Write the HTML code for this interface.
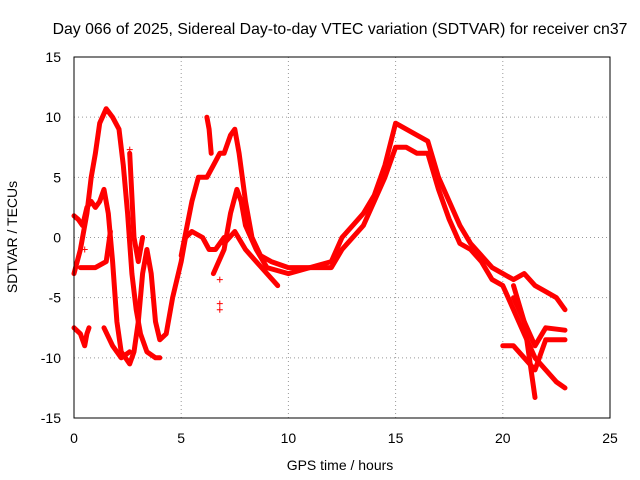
<!DOCTYPE html>
<html><head><meta charset="utf-8"><style>
html,body{margin:0;padding:0;background:#fff}
svg{display:block;font-family:"Liberation Sans",sans-serif}
</style></head><body>
<svg id="chart" width="640" height="480" viewBox="0 0 640 480">
<rect width="640" height="480" fill="#fff"/>
<text x="340" y="34" font-size="15.8" text-anchor="middle">Day 066 of 2025, Sidereal Day-to-day VTEC variation (SDTVAR) for receiver cn37</text>
<g id="grid"></g>
<g id="series"></g>
<rect x="74" y="57" width="536" height="361" fill="none" stroke="#000" stroke-width="1"/>
<g id="ticks"></g>
<text x="340" y="470" font-size="14" text-anchor="middle">GPS time / hours</text>
<text transform="translate(17,237) rotate(-90)" font-size="14" text-anchor="middle">SDTVAR / TECUs</text>
</svg>
<script>
const xTicks=[0,5,10,15,20,25];
const yTicks=[-15,-10,-5,0,5,10,15];
const track1=[[0,-3],[0.3,-1],[0.6,2],[0.8,5],[1.0,7],[1.2,9.5],[1.5,10.7],[1.8,10],[2.1,9],[2.3,6],[2.5,2],[2.7,-3],[2.9,-6],[3.1,-8],[3.4,-9.5],[3.8,-10],[4.0,-10]];
const track2=[[0,1.8],[0.2,1.5],[0.4,1],[0.6,2.5],[0.8,3],[1.0,2.5],[1.2,3],[1.4,4],[1.6,2],[1.8,-2],[2.0,-7],[2.2,-9.5],[2.4,-10],[2.6,-10.5],[2.8,-9.5],[3.0,-7],[3.2,-3],[3.4,-1],[3.6,-3],[3.8,-7],[4.0,-8.5],[4.3,-8],[4.6,-5],[5.0,-2],[5.2,0],[5.5,0.5],[6,0],[6.3,-1],[6.6,-1],[7.0,0]];
const track3=[[0,-7.5],[0.3,-8],[0.5,-9],[0.6,-8],[0.7,-7.5]];
const track4=[[0.3,-2.5],[0.6,-2.5],[1.0,-2.5],[1.5,-2],[1.7,0.5]];
const track5=[[1.4,-7.5],[1.8,-9],[2.2,-10],[2.6,-9.5]];
const track6=[[2.6,7],[2.8,0],[3.0,-2],[3.2,0]];
const track7=[[5,-1.5],[5.5,3],[5.8,5],[6.2,5],[6.5,6],[6.8,7],[7.0,7],[7.3,8.5],[7.5,9],[7.7,7],[8.0,3],[8.3,0],[8.7,-1.5],[9.2,-2],[10,-2.5],[11,-2.5],[12,-2],[12.5,0],[13,1],[13.5,2],[14,3.5],[14.5,6],[15,9.5],[15.5,9],[16,8.5],[16.5,8],[17,5],[17.5,3],[18,1],[18.5,-0.5],[19,-1.5],[19.5,-2.5],[20,-3],[20.5,-3.5],[21,-3],[21.5,-4],[22,-4.5],[22.5,-5],[22.9,-6]];
const track8=[[6.5,-3],[7,-1],[7.3,2],[7.6,4],[7.8,3],[8.0,1],[8.5,-1],[9,-2.5],[10,-3],[11,-2.5],[12,-2.5],[12.5,-1],[13,0],[13.5,1],[14,3],[14.5,5],[15,7.5],[15.5,7.5],[16,7],[16.5,7],[17,4],[17.5,1.5],[18,-0.5],[18.5,-1],[19,-2],[19.5,-3.5],[20,-4],[20.5,-6],[21,-8],[21.5,-10],[22,-11],[22.5,-12],[22.9,-12.5]];
const track9=[[7,-0.5],[7.5,0.5],[8,-1],[8.5,-2],[9.5,-4]];
const track10=[[20.5,-4],[21,-7],[21.5,-13.3]];
const track11=[[20,-9],[20.5,-9],[21,-10],[21.5,-11],[22,-8.5],[22.9,-8.5]];
const track12=[[20.5,-5],[21.5,-9],[22,-7.5],[22.9,-7.7]];
const track13=[[6.2,10],[6.3,9],[6.4,7]];
const scatter=[[6.8,-3.5],[6.8,-5.5],[6.8,-6],[2.6,7.3],[0.5,-1]];
const tracks=[track1,track2,track3,track4,track5,track6,track7,track8,track9,track10,track11,track12,track13];

const NS="http://www.w3.org/2000/svg";
const X=v=>74+v*(536/25);
const Y=v=>237.5-v*(361/30);
const grid=document.getElementById('grid'),ticks=document.getElementById('ticks'),ser=document.getElementById('series');
function mk(t,a,p){const e=document.createElementNS(NS,t);for(const k in a)e.setAttribute(k,a[k]);p.appendChild(e);return e;}
xTicks.forEach(v=>{
 if(v>0&&v<25){const l=mk('line',{x1:X(v),x2:X(v),y1:57,y2:418,stroke:'#999','stroke-dasharray':'1,3'},grid);
 
 }
 const t=mk('text',{x:X(v),y:443,'font-size':14,'text-anchor':'middle'},ticks);t.textContent=v;
 
 
});
yTicks.forEach(v=>{
 if(v>-15&&v<15){const l=mk('line',{x1:74,x2:610,y1:Y(v),y2:Y(v),stroke:'#999','stroke-dasharray':'1,3'},grid);
 
 }
 const t=mk('text',{x:61,y:Y(v)+5,'font-size':14,'text-anchor':'end'},ticks);t.textContent=v;
 
 
});
tracks.forEach((tr,i)=>{
 const d=tr.map((p,j)=>(j?'L':'M')+X(p[0]).toFixed(1)+','+Y(p[1]).toFixed(1)).join('');
 const p=mk('path',{d:d,fill:'none',stroke:'#f00','stroke-width':5,'stroke-linejoin':'round','stroke-linecap':'round'},ser);
 
 
});
scatter.forEach(pt=>{
 const x=X(pt[0]),y=Y(pt[1]);
 const p=mk('path',{d:`M${x-3},${y}H${x+3}M${x},${y-3}V${y+3}`,stroke:'#f00','stroke-width':1},ser);
 
 
});
</script>
</body></html>
